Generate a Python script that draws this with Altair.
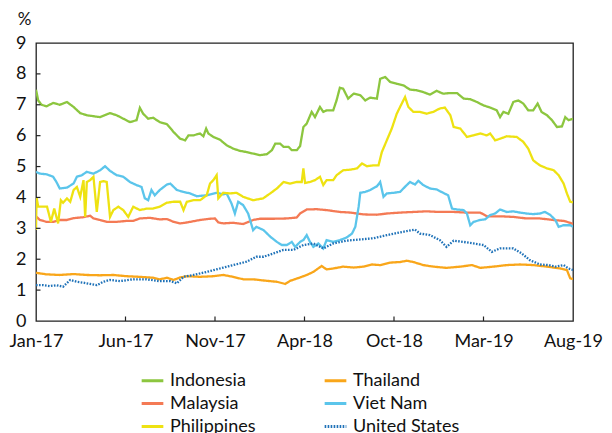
import json
import pandas as pd
import altair as alt

# ---------------- data ----------------
# x = day offset from the start of Jan-2017 (axis spans 0..972)
tick_days = [0, 162, 324, 486, 648, 810, 972]
tick_labels = ["Jan-17", "Jun-17", "Nov-17", "Apr-18", "Oct-18", "Mar-19", "Aug-19"]
y_tick_values = [0, 1, 2, 3, 4, 5, 6, 7, 8, 9]

# legend is filled column by column: Indonesia/Malaysia/Philippines, then Thailand/Viet Nam/United States
series_order = ["Indonesia", "Malaysia", "Philippines", "Thailand", "Viet Nam", "United States"]
series_colors = ["#8CC63F", "#F47A55", "#EEE212", "#F9A61A", "#5BC5EB", "#1F72B8"]
series_dash = [[1, 0], [1, 0], [1, 0], [1, 0], [1, 0], [1.6, 1.4]]

indonesia_days = [0, 4, 10, 19, 31, 43, 56, 68, 80, 92, 104, 116, 128, 134, 146, 158, 170, 182, 188, 194,
                  203, 212, 224, 237, 249, 261, 270, 276, 285, 297, 303, 308, 312, 321, 333, 345, 357, 369, 381, 393,
                  405, 418, 427, 433, 442, 448, 457, 463, 472, 478, 484, 490, 499, 505, 514, 520, 526, 538, 544, 550,
                  556, 565, 575, 587, 596, 605, 617, 623, 632, 641, 653, 665, 677, 689, 701, 713, 725, 737, 750, 762,
                  774, 786, 798, 810, 822, 834, 840, 846, 855, 864, 873, 882, 891, 900, 908, 915, 925, 934, 943, 952,
                  958, 964, 972]
indonesia_vals = [7.49, 7.14, 7.0, 6.95, 7.06, 7.0, 7.09, 6.93, 6.73, 6.66, 6.63, 6.6, 6.69, 6.73, 6.66, 6.55, 6.44, 6.5, 6.9, 6.71,
                  6.55, 6.58, 6.44, 6.37, 6.12, 5.9, 5.85, 6.01, 6.01, 6.07, 5.98, 6.23, 6.07, 5.96, 5.87, 5.69, 5.58, 5.51, 5.47, 5.42,
                  5.37, 5.4, 5.53, 5.74, 5.74, 5.64, 5.64, 5.53, 5.53, 5.66, 6.28, 6.39, 6.77, 6.6, 6.93, 6.77, 6.82, 6.82, 7.14, 7.55,
                  7.52, 7.2, 7.36, 7.31, 7.14, 7.23, 7.2, 7.84, 7.9, 7.74, 7.68, 7.63, 7.49, 7.47, 7.41, 7.33, 7.45, 7.36, 7.38, 7.38,
                  7.2, 7.18, 7.09, 6.98, 6.91, 6.82, 6.6, 6.77, 6.71, 7.09, 7.14, 7.04, 6.82, 6.82, 7.04, 6.77, 6.66, 6.5, 6.28, 6.3,
                  6.6, 6.5, 6.55]

malaysia_days = [0, 7, 19, 31, 43, 56, 68, 86, 98, 104, 116, 128, 146, 164, 176, 188, 206, 224, 237, 249,
                 261, 273, 297, 315, 324, 330, 339, 357, 375, 393, 405, 430, 454, 472, 478, 490, 508, 526, 550, 569,
                 593, 617, 635, 659, 683, 707, 731, 756, 780, 804, 816, 840, 864, 888, 912, 937, 955, 967, 972]
malaysia_vals = [3.39, 3.27, 3.21, 3.21, 3.27, 3.27, 3.33, 3.36, 3.41, 3.32, 3.27, 3.21, 3.21, 3.24, 3.24, 3.32, 3.34, 3.29, 3.3, 3.21,
                 3.16, 3.19, 3.27, 3.31, 3.32, 3.19, 3.16, 3.18, 3.14, 3.27, 3.31, 3.31, 3.32, 3.35, 3.48, 3.61, 3.62, 3.59, 3.53, 3.51,
                 3.45, 3.44, 3.48, 3.51, 3.53, 3.55, 3.53, 3.53, 3.51, 3.51, 3.39, 3.39, 3.37, 3.32, 3.32, 3.27, 3.24, 3.18, 3.14]

thailand_days = [0, 19, 43, 68, 92, 116, 140, 164, 188, 212, 224, 237, 249, 261, 273, 297, 321, 339, 357, 375,
                 393, 418, 436, 451, 460, 478, 490, 502, 517, 526, 538, 556, 575, 593, 608, 623, 641, 659, 671, 683,
                 701, 719, 743, 768, 789, 804, 828, 852, 876, 900, 925, 949, 961, 967, 972]
thailand_vals = [1.56, 1.51, 1.49, 1.52, 1.49, 1.48, 1.49, 1.45, 1.43, 1.4, 1.35, 1.4, 1.33, 1.41, 1.45, 1.43, 1.45, 1.49, 1.43, 1.35,
                 1.35, 1.3, 1.27, 1.2, 1.3, 1.41, 1.49, 1.59, 1.78, 1.67, 1.7, 1.76, 1.73, 1.76, 1.83, 1.81, 1.89, 1.91, 1.95, 1.91,
                 1.81, 1.76, 1.72, 1.76, 1.81, 1.72, 1.76, 1.81, 1.83, 1.81, 1.76, 1.7, 1.65, 1.38, 1.36]

vietnam_days = [0, 7, 19, 31, 37, 43, 56, 68, 74, 83, 92, 104, 116, 125, 134, 146, 158, 170, 182, 191,
                197, 203, 209, 215, 224, 237, 243, 255, 267, 279, 291, 309, 327, 339, 345, 354, 360, 366, 375, 384,
                393, 399, 412, 424, 436, 445, 454, 463, 469, 478, 484, 490, 496, 502, 511, 520, 526, 538, 550, 562,
                572, 578, 584, 587, 596, 605, 617, 623, 629, 635, 647, 659, 671, 677, 686, 692, 701, 713, 725, 737,
                746, 753, 762, 774, 780, 786, 792, 804, 813, 822, 831, 840, 852, 864, 876, 888, 900, 912, 921, 931,
                940, 946, 955, 967, 972]
vietnam_vals = [4.83, 4.77, 4.75, 4.67, 4.5, 4.29, 4.32, 4.45, 4.67, 4.72, 4.83, 4.77, 4.88, 5.01, 4.86, 4.72, 4.67, 4.5, 4.4, 4.34,
                3.97, 3.91, 4.24, 4.07, 4.24, 4.42, 4.45, 4.24, 4.18, 4.13, 4.04, 4.07, 4.15, 4.1, 4.13, 3.8, 3.48, 3.86, 3.75, 3.48,
                2.94, 3.05, 2.94, 2.73, 2.56, 2.46, 2.46, 2.56, 2.4, 2.56, 2.62, 2.78, 2.56, 2.4, 2.51, 2.35, 2.62, 2.56, 2.62, 2.7,
                2.83, 3.05, 3.7, 4.15, 4.18, 4.24, 4.36, 4.5, 4.02, 4.13, 4.15, 4.18, 4.4, 4.5, 4.42, 4.54, 4.4, 4.29, 4.26, 4.15,
                4.07, 3.64, 3.61, 3.59, 3.48, 3.1, 3.21, 3.27, 3.29, 3.43, 3.48, 3.61, 3.53, 3.55, 3.51, 3.48, 3.46, 3.48, 3.53, 3.43,
                3.27, 3.05, 3.1, 3.1, 3.05]

philippines_days = [0, 1, 4, 10, 20, 27, 33, 40, 45, 49, 56, 62, 68, 74, 80, 86, 89, 92, 98, 104,
                    110, 116, 122, 128, 134, 140, 149, 158, 167, 176, 188, 200, 212, 224, 237, 249, 261, 267, 273, 285,
                    297, 309, 315, 321, 327, 330, 339, 351, 363, 375, 393, 411, 424, 436, 448, 460, 472, 481, 484, 487,
                    496, 505, 514, 520, 526, 538, 544, 556, 569, 581, 590, 599, 611, 620, 626, 635, 644, 653, 659, 668,
                    674, 683, 695, 707, 719, 731, 740, 750, 756, 768, 780, 792, 804, 816, 822, 831, 840, 852, 870, 882,
                    891, 900, 912, 925, 937, 946, 955, 961, 967, 972]
philippines_vals = [2.95, 4.0, 3.7, 3.7, 3.7, 3.21, 3.64, 3.16, 3.91, 3.83, 3.97, 3.86, 4.24, 4.34, 4.02, 4.56, 3.37, 4.5, 4.56, 4.67,
                    3.53, 4.5, 4.53, 4.5, 3.37, 3.59, 3.7, 3.59, 3.37, 3.7, 3.59, 3.64, 3.64, 3.7, 3.83, 3.86, 3.86, 3.59, 3.86, 3.91,
                    3.91, 4.07, 4.45, 4.56, 4.72, 3.97, 4.15, 4.13, 4.15, 4.02, 3.91, 3.97, 4.13, 4.29, 4.5, 4.45, 4.5, 4.5, 4.94, 4.47,
                    4.5, 4.56, 4.67, 4.4, 4.56, 4.56, 4.72, 4.88, 4.9, 4.94, 5.1, 5.01, 5.04, 5.04, 5.47, 5.85, 6.23, 6.71, 6.93, 7.25,
                    6.93, 6.77, 6.77, 6.71, 6.77, 6.88, 6.91, 6.66, 6.28, 6.23, 5.96, 6.01, 6.07, 6.01, 6.07, 5.85, 5.9, 5.98, 5.96, 5.8,
                    5.58, 5.2, 5.04, 4.94, 4.88, 4.72, 4.45, 4.13, 3.86, 3.84]

us_days = [0, 13, 25, 37, 49, 62, 74, 86, 98, 110, 122, 134, 152, 176, 200, 224, 243, 255, 267, 285,
           309, 333, 357, 381, 399, 412, 430, 448, 466, 484, 502, 520, 538, 562, 587, 611, 635, 659, 671, 686,
           695, 713, 731, 743, 756, 774, 792, 810, 825, 840, 864, 879, 894, 912, 928, 940, 955, 964, 972]
us_vals = [1.16, 1.16, 1.13, 1.16, 1.11, 1.33, 1.27, 1.24, 1.2, 1.16, 1.27, 1.33, 1.29, 1.35, 1.35, 1.29, 1.29, 1.22, 1.43, 1.49,
           1.59, 1.7, 1.81, 1.92, 2.08, 2.08, 2.19, 2.3, 2.3, 2.46, 2.51, 2.35, 2.51, 2.6, 2.64, 2.68, 2.78, 2.87, 2.91, 2.96,
           2.83, 2.78, 2.62, 2.4, 2.6, 2.56, 2.51, 2.46, 2.24, 2.35, 2.35, 2.19, 1.97, 1.83, 1.81, 1.76, 1.81, 1.7, 1.65]

# ---------------- build table ----------------
series_data = {
    "Indonesia": (indonesia_days, indonesia_vals),
    "Thailand": (thailand_days, thailand_vals),
    "Malaysia": (malaysia_days, malaysia_vals),
    "Viet Nam": (vietnam_days, vietnam_vals),
    "Philippines": (philippines_days, philippines_vals),
    "United States": (us_days, us_vals),
}
frames = []
for name, (d, v) in series_data.items():
    frames.append(pd.DataFrame({"day": d, "value": v, "country": name}))
df = pd.concat(frames, ignore_index=True)

FONT = "Lato"
label_expr = f"{json.dumps(tick_labels)}[round(datum.value / 162)]"

x_scale = alt.Scale(domain=[0, 972], nice=False, zero=False)
y_scale = alt.Scale(domain=[0, 9], nice=False)

x_axis = alt.Axis(values=tick_days, labelExpr=label_expr, title=None, ticks=False, tickSize=0,
                  domain=False, grid=False, labelFont=FONT, labelFontSize=18, labelPadding=11,
                  labelColor="#111", labelFlush=False, labelOverlap=False)
y_axis = alt.Axis(values=y_tick_values, tickCount=10, title="%", titleAngle=0, titleX=-12, titleY=-24,
                  titleAlign="center", titleBaseline="middle", titleFont=FONT, titleFontSize=17,
                  titleFontWeight="normal", titleColor="#111",
                  ticks=False, tickSize=0, domain=False, grid=False, labelFont=FONT,
                  labelFontSize=18, labelPadding=10, labelColor="#111",
                  labelFlush=False, labelOverlap=False)

legend = alt.Legend(
    title=None, orient="none", legendX=104, legendY=325, columns=2,
    symbolType="stroke", symbolSize=470, symbolStrokeWidth=3,
    labelFont=FONT, labelFontSize=18, labelColor="#111",
    columnPadding=62, rowPadding=1, labelOffset=5, padding=0,
)

lines = alt.Chart(df).mark_line(strokeWidth=2.3, clip=True).encode(
    x=alt.X("day:Q", scale=x_scale, axis=x_axis),
    y=alt.Y("value:Q", scale=y_scale, axis=y_axis),
    color=alt.Color("country:N", scale=alt.Scale(domain=series_order, range=series_colors), legend=legend),
    strokeDash=alt.StrokeDash("country:N", scale=alt.Scale(domain=series_order, range=series_dash), legend=legend),
    order=alt.Order("day:Q"),
)

xt = pd.DataFrame({"day": tick_days[1:-1]})
x_ticks = alt.Chart(xt).mark_rule(color="#222", strokeWidth=1.2).encode(
    x=alt.X("day:Q", scale=x_scale, axis=x_axis), y=alt.value(278), y2=alt.value(273.5))

yt = pd.DataFrame({"value": y_tick_values[1:-1]})
y_ticks = alt.Chart(yt).mark_rule(color="#222", strokeWidth=1.2).encode(
    y=alt.Y("value:Q", scale=y_scale, axis=y_axis), x=alt.value(0), x2=alt.value(4.5))

chart = alt.layer(lines, x_ticks, y_ticks).properties(
    width=537, height=278,
    autosize=alt.AutoSizeParams(type="none"),
    padding={"left": 28, "top": 35, "right": 31, "bottom": 112},
).configure_view(stroke="#222", strokeWidth=1.3)

chart.save("out.html", embed_options={"renderer": "svg", "actions": False})
